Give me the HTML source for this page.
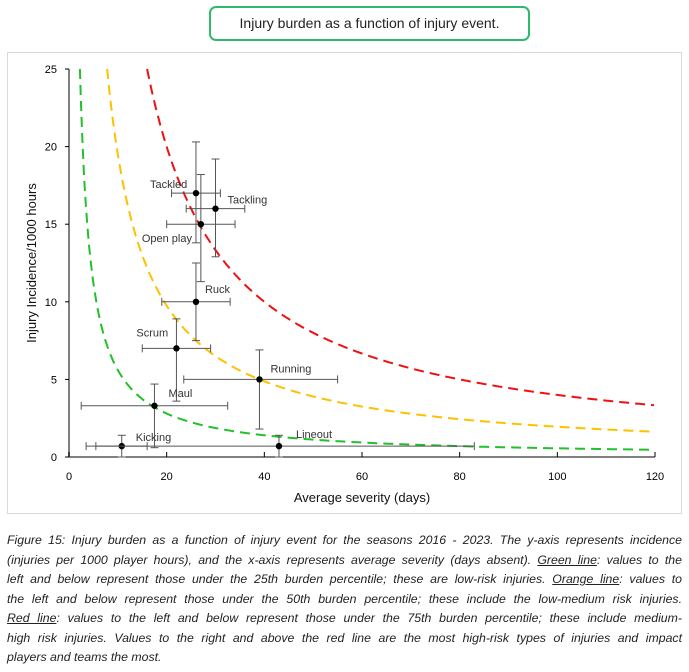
<!DOCTYPE html>
<html><head><meta charset="utf-8"><style>
body{margin:0;background:#fff;width:689px;height:672px;position:relative;font-family:"Liberation Sans",sans-serif;overflow:hidden}
#title{position:absolute;left:209px;top:6px;width:321px;height:35px;border:2px solid #2dbb6b;border-radius:7px;box-sizing:border-box;text-align:center;line-height:31px;font-size:14px;color:#222}
#frame{position:absolute;left:7px;top:52px;width:675px;height:462px;border:1px solid #d9d9d9;box-sizing:border-box}
#caption{position:absolute;left:7px;top:531px;width:675px;font-style:italic;font-size:12.3px;color:#222}
#caption span{display:block;height:19.5px;line-height:19.5px;text-align:justify;text-align-last:justify;white-space:nowrap}
#caption span.last{text-align-last:left}
u{text-decoration:underline}
</style></head><body>
<div id="title">Injury burden as a function of injury event.</div>
<div id="frame"></div>
<svg id="chart" width="689" height="672" style="position:absolute;left:0;top:0" font-family="Liberation Sans, sans-serif"></svg>
<div id="caption">
<span>Figure 15: Injury burden as a function of injury event for the seasons 2016 - 2023. The y-axis represents incidence</span>
<span>(injuries per 1000 player hours), and the x-axis represents average severity (days absent). <u>Green line</u>: values to the</span>
<span>left and below represent those under the 25th burden percentile; these are low-risk injuries. <u>Orange line</u>: values to</span>
<span>the left and below represent those under the 50th burden percentile; these include the low-medium risk injuries.</span>
<span><u>Red line</u>: values to the left and below represent those under the 75th burden percentile; these include medium-</span>
<span>high risk injuries. Values to the right and above the red line are the most high-risk types of injuries and impact</span>
<span class="last">players and teams the most.</span>
</div>
<script>
const names=["Tackled","Tackling","Open play","Ruck","Scrum","Running","Maul","Kicking","Lineout"];
const sev=[26,30,27,26,22,39,17.5,10.8,43];
const inc=[17,16,15,10,7,5,3.3,0.7,0.7];
const xLo=[21,24,20,19,15,23.5,2.5,3.5,5.5];
const xHi=[31,36,34,33,29,55,32.5,16,83];
const yLo=[13.8,12.9,11.3,7.5,3.6,1.8,0.6,0,0];
const yHi=[20.3,19.2,18.2,12.5,8.9,6.9,4.7,1.4,1.4];
const curveK=[56,195,400];
const curveColors=["#22c02a","#ffc000","#ee1111"];
const xTicks=[0,20,40,60,80,100,120];
const yTicks=[0,5,10,15,20,25];
const labelOff=[[-46,-5],[12,-5],[-59,18],[9,-9],[-40,-12],[11,-7],[14,-9],[14,-5],[17,-8]];
const svg=document.getElementById('chart');const NS='http://www.w3.org/2000/svg';
const X=v=>69+v*(586/120), Y=v=>457-v*(388/25);
function mk(t,a,p){const e=document.createElementNS(NS,t);for(const k in a)e.setAttribute(k,a[k]);(p||svg).appendChild(e);return e;}
let ax=mk('line',{x1:X(0),y1:Y(0),x2:X(120),y2:Y(0),stroke:'#000','stroke-width':1});

let ay=mk('line',{x1:X(0),y1:Y(0),x2:X(0),y2:Y(25),stroke:'#7f7f7f','stroke-width':2});

xTicks.forEach(v=>{mk('line',{x1:X(v),y1:Y(0),x2:X(v),y2:Y(0)-5,stroke:'#000'});
 const t=mk('text',{x:X(v),y:480,'text-anchor':'middle','font-size':11,fill:'#000'});t.textContent=v;
 });
yTicks.forEach(v=>{mk('line',{x1:X(0)-4,y1:Y(v),x2:X(0),y2:Y(v),stroke:'#000'});
 const t=mk('text',{x:57,y:Y(v)+4,'text-anchor':'end','font-size':11,fill:'#000'});t.textContent=v;
 });
let xt=mk('text',{x:362,y:502,'text-anchor':'middle','font-size':13,fill:'#111'});xt.textContent='Average severity (days)';

let yt=mk('text',{x:36,y:263,'text-anchor':'middle','font-size':13,fill:'#111',transform:'rotate(-90 36 263)'});yt.textContent='Injury Incidence/1000 hours';

curveK.forEach((k,i)=>{let d='';for(let x=k/25;x<=120;x+=0.2){d+=(d?'L':'M')+X(x).toFixed(1)+' '+Y(k/x).toFixed(1);}
 const p=mk('path',{d:d,fill:'none',stroke:curveColors[i],'stroke-width':2,'stroke-dasharray':'10 6'});
 });
names.forEach((n,i)=>{const g=mk('g',{});
 
 const s='#555';
 mk('line',{x1:X(xLo[i]),x2:X(xHi[i]),y1:Y(inc[i]),y2:Y(inc[i]),stroke:s},g);
 mk('line',{x1:X(sev[i]),x2:X(sev[i]),y1:Y(yLo[i]),y2:Y(yHi[i]),stroke:s},g);
 [xLo[i],xHi[i]].forEach(v=>mk('line',{x1:X(v),x2:X(v),y1:Y(inc[i])-4,y2:Y(inc[i])+4,stroke:s},g));
 [yLo[i],yHi[i]].forEach(v=>mk('line',{x1:X(sev[i])-4,x2:X(sev[i])+4,y1:Y(v),y2:Y(v),stroke:s},g));
 mk('circle',{cx:X(sev[i]),cy:Y(inc[i]),r:3.2,fill:'#000'},g);
 const t=mk('text',{x:X(sev[i])+labelOff[i][0],y:Y(inc[i])+labelOff[i][1],'font-size':11,fill:'#333'},g);t.textContent=n;
});
</script>
</body></html>
